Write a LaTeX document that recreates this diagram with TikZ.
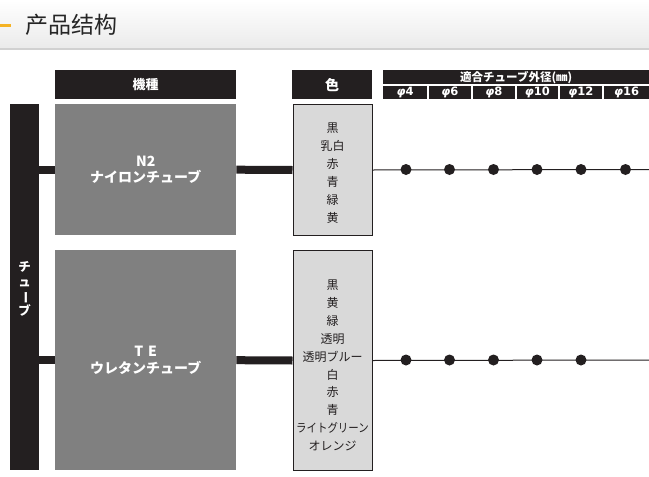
\documentclass[tikz,border=0pt]{standalone}
\usepackage{fontspec}
\usepackage{graphicx}
\newfontfamily\jpfont{Noto Sans CJK JP}
\newfontfamily\scfont{Noto Sans CJK SC}
\newfontfamily\dvfont{DejaVu Sans}
\definecolor{ink}{HTML}{231F20}
\definecolor{midgray}{HTML}{808080}
\definecolor{lightbox}{HTML}{D9D9D9}
\definecolor{accent}{HTML}{F5B324}
\tikzset{
  headbox/.style={fill=ink, text=white, inner sep=0pt, anchor=north west, font=\jpfont\bfseries},
  graybox/.style={fill=midgray, text=white, inner sep=0pt, anchor=north west, align=center, font=\jpfont\bfseries\fontsize{14}{16.5}\selectfont},
  colorbox/.style={fill=lightbox, draw=ink, line width=1pt, inner sep=0pt, anchor=north west},
  colorlist/.style={inner sep=0pt, align=center, text=ink, font=\jpfont\fontsize{12}{17.9}\selectfont},
  thickconn/.style={draw=ink, line width=8pt},
  thinconn/.style={draw=ink, line width=1pt},
  dot/.style={circle, fill=ink, inner sep=0pt, minimum size=11pt},
  phicell/.style={fill=ink, text=white, inner sep=0pt, anchor=north west, minimum height=13.5pt, font=\dvfont\bfseries\fontsize{11.5}{13}\selectfont},
}
\begin{document}
\begin{tikzpicture}[x=1pt,y=-1pt]
\useasboundingbox (0,0) rectangle (649,477);
% header band
\shade[top color=white, bottom color=black!8] (0,0) rectangle (649,48);
\fill[black!18] (0,48) rectangle (649,49.5);
\fill[accent] (0,23.5) rectangle (11,26.5);
\node[anchor=west, inner sep=0pt, text=black!85, font=\scfont\fontsize{23}{26}\selectfont] (title) at (25,25) {产品结构};

% column headers
\node[headbox, minimum width=181pt, minimum height=29pt, font=\jpfont\bfseries\fontsize{13}{15}\selectfont] (hkishu) at (55,70) {機種};
\node[headbox, minimum width=80pt, minimum height=29pt, font=\jpfont\bfseries\fontsize{14}{16}\selectfont] (hiro) at (292,70) {色};
\node[headbox, minimum width=266pt, minimum height=14pt, font=\jpfont\bfseries\fontsize{11.5}{12}\selectfont] (hsize) at (383,70) {適合チューブ外径(㎜)};
\node[phicell, minimum width=44pt] (p4) at (383,85.5) {\itshape φ\upshape 4};
\node[phicell, minimum width=42.5pt] (p6) at (428.5,85.5) {\itshape φ\upshape 6};
\node[phicell, minimum width=42.5pt] (p8) at (472.5,85.5) {\itshape φ\upshape 8};
\node[phicell, minimum width=41.5pt] (p10) at (516.5,85.5) {\itshape φ\upshape 10};
\node[phicell, minimum width=42.5pt] (p12) at (559.5,85.5) {\itshape φ\upshape 12};
\node[phicell, minimum width=45pt] (p16) at (604,85.5) {\itshape φ\upshape 16};

% left bar
\node[fill=ink, inner sep=0pt, anchor=north west, minimum width=29pt, minimum height=366pt] (bar) at (10,104) {};
\node[text=white, inner sep=0pt, align=center, font=\jpfont\bfseries\fontsize{12.5}{14.5}\selectfont] (bartext) at (24.5,289) {チ\\ュ\\\rotatebox[origin=c]{-90}{ー}\\ブ};

% gray boxes
\node[graybox, minimum width=181pt, minimum height=131pt] (n2) at (55,104) {N2\\ナイロンチューブ};
\node[graybox, minimum width=181pt, minimum height=220pt] (te) at (55,250) {T\,\,E\\ウレタンチューブ};

% colour boxes
\node[colorbox, minimum width=79pt, minimum height=131pt] (c1) at (292.5,104) {};
\node[colorlist] (c1text) at ([yshift=-3pt]c1.center) {黒\\乳白\\赤\\青\\緑\\黄};
\node[colorbox, minimum width=79pt, minimum height=220pt] (c2) at (292.5,250) {};
\node[colorlist] (c2text) at ([yshift=-5pt]c2.center) {黒\\黄\\緑\\透明\\透明ブルー\\白\\赤\\青\\\scalebox{0.87}[1]{ライトグリーン}\\オレンジ};

% thick connectors
\draw[thickconn] (bar.east |- n2.west) -- (n2.west);
\draw[thickconn] (n2.east) -- (c1.west);
\draw[thickconn] (bar.east |- te.west) -- (te.west);
\draw[thickconn] (te.east) -- (c2.west);

% thin lines with dots
\coordinate (r1end) at (649,169.5);
\coordinate (r2end) at (649,360);
\draw[thinconn] (c1.east) -- (r1end);
\draw[thinconn] (c2.east) -- (r2end);
\foreach \x/\n in {406/a,449.5/b,493.5/c,537/d,581/e,625.5/f}
  \node[dot] (d1\n) at (\x,169.5) {};
\foreach \x/\n in {406/a,449.5/b,493.5/c,537/d,581/e}
  \node[dot] (d2\n) at (\x,360) {};
\end{tikzpicture}
\end{document}
